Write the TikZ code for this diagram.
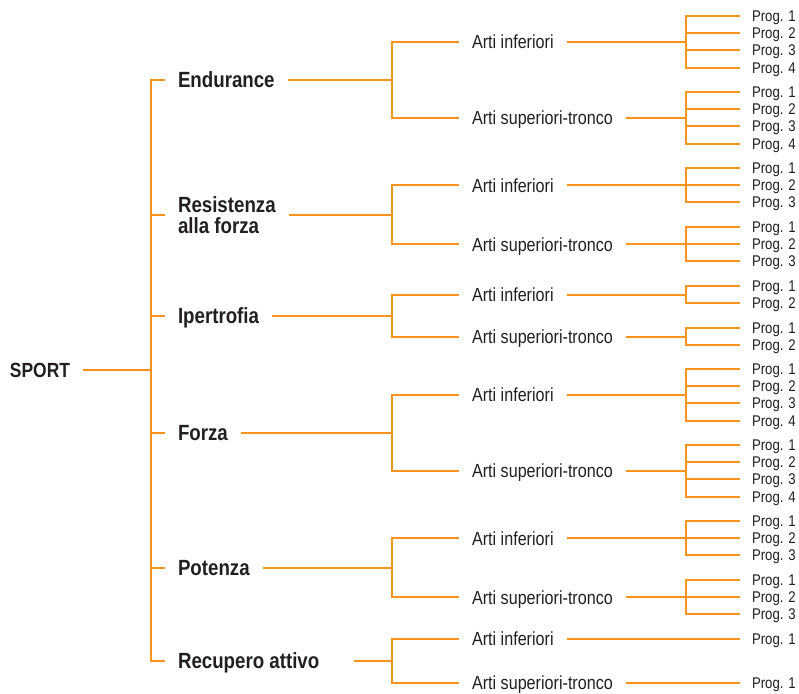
\documentclass[tikz,border=0pt]{standalone}
\usepackage{fontspec}
\setmainfont[FakeStretch=0.85]{Liberation Sans}
\usepackage{tikz}
\usetikzlibrary{calc}

\definecolor{arancio}{RGB}{247,148,29}
\definecolor{testo}{RGB}{35,31,32}

\begin{document}
\begin{tikzpicture}[x=1pt, y=-1pt,
line width=2pt, line join=miter,
every node/.style={text=testo, inner xsep=12pt, inner ysep=0pt, text depth=0pt},
top/.style={anchor=east, font=\bfseries\fontsize{20.5}{21}\selectfont, text height=14.7pt},
main/.style={anchor=west, font=\bfseries\fontsize{22}{21}\selectfont, text height=15.7pt},
sub/.style={anchor=west, font=\fontsize{19}{19}\selectfont, text height=13.6pt},
prog/.style={anchor=west, inner xsep=11pt, font=\fontsize{15.5}{16}\selectfont, text height=11.1pt},
link/.style={draw=arancio}]

\useasboundingbox (0,0) rectangle (799,693);

% columns of the brackets
\coordinate (c1) at (151,0);
\coordinate (c2) at (392,0);
\coordinate (c3) at (686,0);

\node[top] (sport) at (83,370) {SPORT};

\node[main] (end) at (165,80) {Endurance};
\node[main, align=left, text height=, text depth=] (res) at (165,215) {Resistenza\\alla forza};
\node[main] (ipe) at (165,316) {Ipertrofia};
\node[main] (frz) at (165,433) {Forza};
\node[main] (pot) at (165,568) {Potenza};
\node[main, inner xsep=0pt, xshift=12pt] (rec) at (165,661) {Recupero attivo};

% programs and limbs
\foreach \g/\y/\n/\t in {endI/16/4/Arti inferiori, endS/92/4/Arti superiori-tronco,
                         resI/168/3/Arti inferiori, resS/227/3/Arti superiori-tronco,
                         ipeI/286/2/Arti inferiori, ipeS/328/2/Arti superiori-tronco,
                         frzI/369/4/Arti inferiori, frzS/445/4/Arti superiori-tronco,
                         potI/521/3/Arti inferiori, potS/580/3/Arti superiori-tronco,
                         recI/639/1/Arti inferiori, recS/683/1/Arti superiori-tronco}
{
  \node[sub] (\g) at (459,{\y+8.6*(\n-1)}) {\t};
  \foreach \k in {1,...,\n}
  {
    \node[prog] (\g\k) at (740,{\y+17.2*(\k-1)}) {Prog. \k};
    \path[link] (\g.east) -- (\g.east -| c3) |- (\g\k.west);
  }
}

\foreach \m in {end,res,ipe,frz,pot}
{
  \path[link] (sport.east) -- (sport.east -| c1) |- (\m.west);
  \path[link] (\m.east) -- (\m.east -| c2) |- (\m I.west);
  \path[link] (\m.east) -- (\m.east -| c2) |- (\m S.west);
}
% the last one sits further from its text
\path[link] (sport.east) -- (sport.east -| c1) |- ([xshift=-12pt]rec.west);
\path[link] ([xshift=34pt]rec.east) -- (rec.east -| c2) |- (recI.west);
\path[link] ([xshift=34pt]rec.east) -- (rec.east -| c2) |- (recS.west);

\end{tikzpicture}
\end{document}
